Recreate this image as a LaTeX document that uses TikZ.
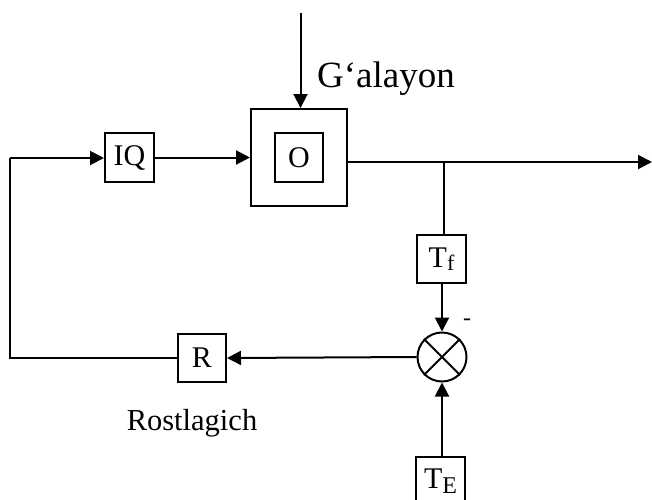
\documentclass[tikz,border=0pt]{standalone}
\usepackage{fontspec}
\setmainfont{Liberation Serif}
\usetikzlibrary{arrows.meta}
\tikzset{
  blk/.style={draw,line width=2pt,inner sep=0pt,minimum width=48pt,minimum height=48pt,font=\fontsize{30}{34}\selectfont},
  conn/.style={line width=2pt},
  arr/.style={conn,-{Triangle[length=14pt,width=14pt]}}
}
\begin{document}
\begin{tikzpicture}[x=1pt,y=-1pt]
\useasboundingbox (0,0) rectangle (652,499);
\node[blk,minimum width=96pt,minimum height=97pt] (outer) at (299,157.5) {};
\node[blk,minimum width=48pt,minimum height=49pt] (inner) at (299,157.5) {O};
\node[blk,minimum width=49pt,minimum height=49pt] (iq) at (129.5,157.5) {IQ};
\node[blk,minimum width=49pt,minimum height=48pt] (tf) at (441.5,259) {T{\fontsize{22}{22}\selectfont\raisebox{-3pt}{f}}};
\node[draw,line width=2pt,circle,minimum size=49pt,inner sep=0pt] (sum) at (442,357) {};
\draw[line width=2pt] (sum.north west) -- (sum.south east) (sum.north east) -- (sum.south west);
\node[blk,minimum width=49pt,minimum height=48pt] (te) at (440.5,481) {T{\fontsize{24}{24}\selectfont\raisebox{-5pt}{E}}};
\node[blk] (r) at (202,358) {R};
\node[anchor=base,inner sep=0pt,font=\fontsize{37}{42}\selectfont] (gal) at (386,87) {G‘alayon};
\node[anchor=base,inner sep=0pt,font=\fontsize{30.5}{35}\selectfont] (rost) at (192,430) {Rostlagich};
\node[inner sep=0pt,font=\fontsize{24}{26}\selectfont] (minus) at (467,322) {-};
\coordinate (top) at (300.5,13);
\coordinate (out) at (652,162);
\coordinate (br) at (444,162);
\coordinate (lb) at (10,358);
\coordinate (lt) at (10,158);
\draw[arr] (top) -- (top |- outer.north);
\draw[arr] (outer.east |- out) -- (out);
\draw[conn] (br) -- (br |- tf.north);
\draw[arr] (tf.south -| sum.north) -- (sum.north);
\draw[arr] (te.north -| sum.south) -- (sum.south);
\draw[arr] (sum.west) -- (r.east);
\draw[conn] (r.west) -- (lb) -- (lt);
\draw[arr] (lt) -- (iq.west |- lt);
\draw[arr] (iq.east) -- (outer.west);
\end{tikzpicture}
\end{document}
